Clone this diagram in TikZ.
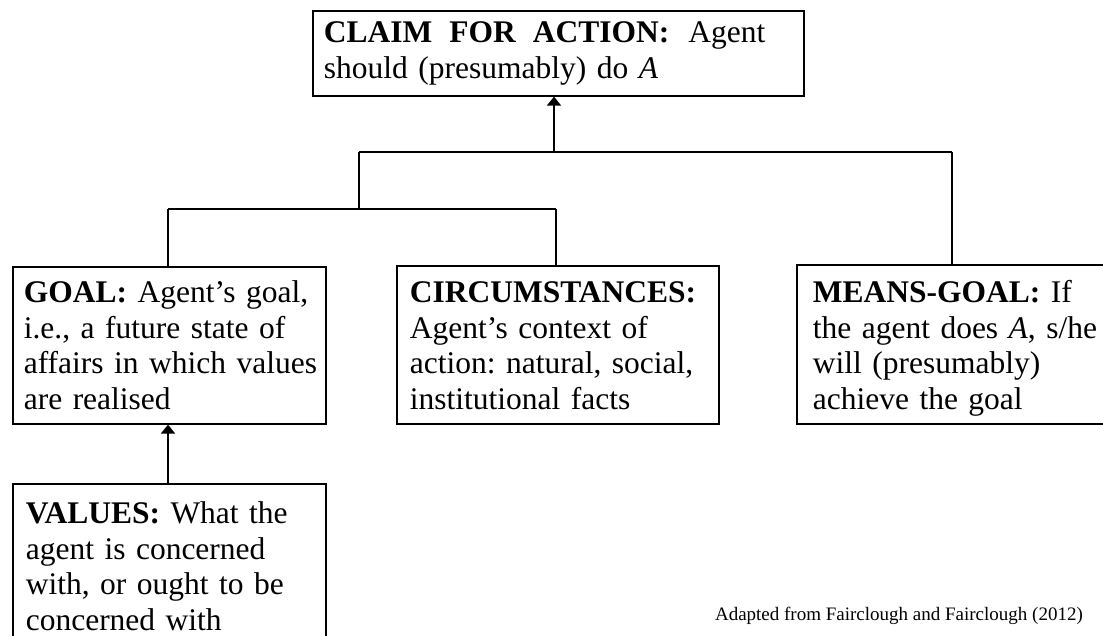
\documentclass[tikz,border=0pt]{standalone}
\usepackage{fontspec}
\setmainfont{Liberation Serif}
\usetikzlibrary{arrows.meta}
\newcommand\boxline[1]{\mbox{#1}}
\begin{document}
\begin{tikzpicture}[x=1pt,y=-1pt,
  box/.style={draw, line width=1.6pt, anchor=north west, inner ysep=0pt, align=left,
    font=\fontsize{31.5}{35.5}\selectfont\frenchspacing},
  conn/.style={line width=1.6pt},
  arr/.style={conn, -{Triangle[length=9pt,width=14pt]}},
  note/.style={font=\fontsize{19}{22}\selectfont, anchor=base east, inner sep=0pt}]
\useasboundingbox (0,0) rectangle (1103,635);
\clip (0,0) rectangle (1103,635);

\node[box, inner xsep=11pt, text width=469pt, text height=32pt, text depth=53pt] (claim) at (312,10)
  {\boxline{\textbf{CLAIM\hskip 17pt FOR\hskip 17pt ACTION:}\hskip 19pt Agent}\\
   \boxline{should (presumably) do \textit{A}}};
\node[box, inner xsep=11pt, text width=291pt, text height=36pt, text depth=121pt] (goal) at (12,266)
  {\boxline{\textbf{GOAL:} Agent’s goal,}\\ \boxline{i.e., a future state of}\\
   \boxline{affairs in which values}\\ \boxline{are realised}};
\node[box, inner xsep=13pt, text width=296pt, text height=37pt, text depth=121pt] (circ) at (396,265)
  {\boxline{\textbf{CIRCUMSTANCES:}}\\ \boxline{Agent’s context of}\\
   \boxline{action: natural, social,}\\ \boxline{institutional facts}};
\node[box, inner xsep=16pt, text width=287pt, text height=38pt, text depth=121pt] (mg) at (796,264)
  {\boxline{\textbf{MEANS-GOAL:} If}\\ \boxline{the agent does \textit{A}, s/he}\\
   \boxline{will (presumably)}\\ \boxline{achieve the goal}};
\node[box, inner xsep=13pt, text width=287pt, text height=40pt, text depth=137pt] (values) at (12,483)
  {\boxline{\textbf{VALUES:} What the}\\ \boxline{agent is concerned}\\
   \boxline{with, or ought to be}\\ \boxline{concerned with}};

\coordinate (top) at (554,152);
\coordinate (hl) at (359,152);
\coordinate (hr) at (952,152);
\coordinate (m) at (359,209);
\coordinate (ml) at (168,209);
\coordinate (mr) at (556,209);

\draw[arr] (top) -- (top |- claim.south);
\draw[conn] (hl) -- (hr);
\draw[conn] (hr) -- (hr |- mg.north);
\draw[conn] (hl) -- (m);
\draw[conn] (ml) -- (mr);
\draw[conn] (ml) -- (ml |- goal.north);
\draw[conn] (mr) -- (mr |- circ.north);
\draw[arr] (values.north -| ml) -- (goal.south -| ml);

\node[note] (src) at (1083,620) {Adapted from Fairclough and Fairclough (2012)};
\end{tikzpicture}
\end{document}
